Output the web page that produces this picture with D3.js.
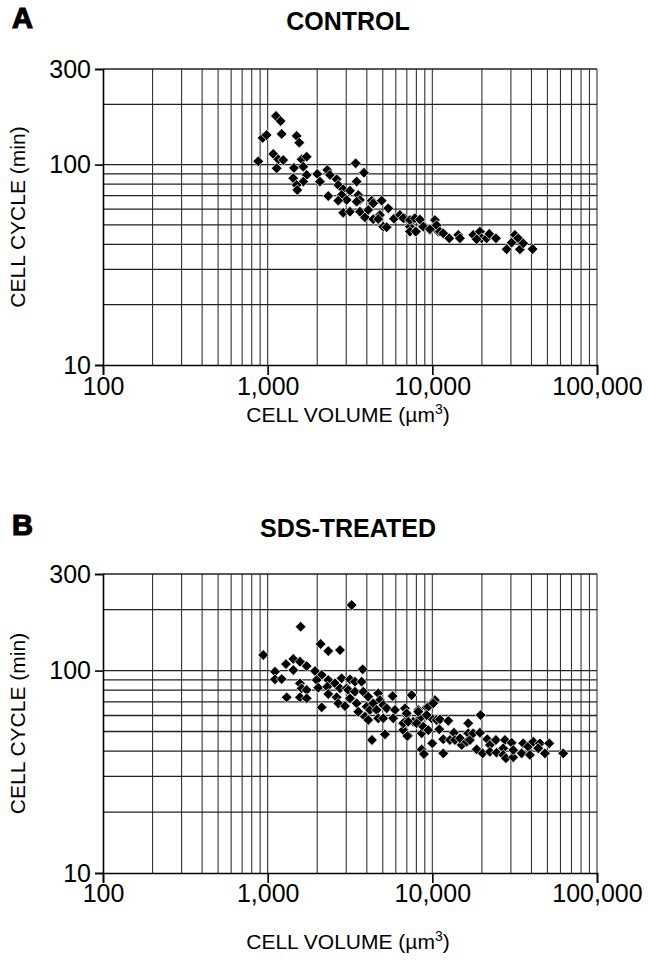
<!DOCTYPE html>
<html>
<head>
<meta charset="utf-8">
<script src="https://cdn.jsdelivr.net/npm/d3@7"></script>
<style>
  html, body { margin: 0; padding: 0; background: #fff; }
  svg { display: block; }
  text { font-family: "Liberation Sans", Arial, Helvetica, sans-serif; fill: #000; }
</style>
</head>
<body>
<svg id="chart" width="649" height="961"></svg>
<script>
// ---------- DATA ----------
const xTickValues = [100, 1000, 10000, 100000];
const xTickLabels = ["100", "1,000", "10,000", "100,000"];
const yTickValues = [10, 100, 300];
const yTickLabels = ["10", "100", "300"];
const xGridValues = [200,300,400,500,600,700,800,900,1000,2000,3000,4000,5000,6000,7000,8000,9000,10000,20000,30000,40000,50000,60000,70000,80000,90000,100000];
const yGridValues = [20,30,40,50,60,70,80,90,100,200,300];

const panelLetters = ["A", "B"];
const panelTitles = ["CONTROL", "SDS-TREATED"];
const xAxisTitle = "CELL VOLUME (\u00B5m";
const yAxisTitle = "CELL CYCLE (min)";

// Panel A: control
const controlVolume = [1123,1199,932,986,1216,1500,1556,877,1081,1160,1243,1134,1608,1725,1645,1444,1430,1725,1645,1500,1513,2001,2077,2300,2389,2624,2684,2333,3422,3843,3471,2877,3160,2814,3017,2684,3549,3634,3471,2877,3160,3634,3897,4281,4377,4081,4923,5399,4808,4377,4692,5034,5279,5846,6358,6816,7311,7842,7656,8409,8807,9670,10370,10860,6658,7311,7842,8409,7311,7952,8807,9670,10620,11120,11650,12670,14370,14710,17720,19450,19930,18580,21370,22160,24340,28260,30300,31730,33230,34030,35640,40640];
const controlCycle = [174.8,165,135.8,140.5,142.2,139,128.6,103.9,113,106.3,105.4,95.9,106.3,109.5,97.6,96.2,85.5,88.8,82.2,79.1,74.7,89.8,82.2,94,88.8,84.5,79.1,69.7,101.5,91.1,82.3,75.3,74.1,70.5,66.6,66.1,70.5,66.6,65.3,57.5,58.2,58.2,54.6,66.1,64.1,59.4,66.1,60.5,56.1,53.4,53.5,49,48.7,53.7,56.1,54,49,46.3,53.5,52.9,49.8,47.2,52.9,46.3,54,52.9,54,53.2,46.3,46.3,49,47.6,49.8,46.3,45.4,42.9,44.6,42.9,44.6,46.3,42.9,42.4,42.9,45.1,42.9,37.8,40.8,44.6,42.9,37.8,40.5,37.9];

// Panel B: SDS-treated
const sdsVolume = [3237,1586,940,2098,2333,2749,1108,1108,1217,1292,1431,1431,1571,1726,1938,2128,1305,1571,1609,1726,1571,1726,1985,2029,2333,2301,2128,2563,2814,2333,2624,2749,3017,2684,2947,3160,3389,3722,3776,3085,3389,3160,3471,3807,4081,3549,3897,3991,4180,4694,4808,4378,5035,4592,4081,4694,4298,5156,5742,5280,5929,5035,5789,6818,6984,7488,6818,7658,6658,7139,8212,8409,8611,9236,9672,10370,9905,10620,8611,8894,9989,6984,6658,7139,7040,8212,8032,9446,10130,9236,8809,9446,11130,12500,11020,11650,11650,13530,12790,13720,15070,14720,16520,16520,16160,16920,17720,19460,19650,18580,20210,21550,22370,24330,22370,24570,27600,30300,26950,26950,27990,30990,30990,34850,35650,38210,39140,41000,45010,43950,48280,51280,62350];
const sdsCycle = [210.8,164.7,119.4,135.3,124.9,126.3,98.7,90.5,90.8,107.7,114.1,100.6,110.6,105.3,99.5,95.1,73.8,86.5,81.7,80.2,73.8,72.9,89.8,82.3,89.8,83.2,65.8,86.5,91.6,76.6,73.8,81.7,81.7,68.9,66.8,90.5,88.1,88.1,101.5,80.2,78.6,72.9,68.9,78.6,74.3,62.6,59.2,66.3,63.9,77.2,71.5,68.9,67.6,63.9,57,58.1,45.4,48.4,74.8,65.1,63.9,58.1,58.1,65.1,60.3,75.7,55.9,55.9,50.8,47.7,63.9,58.1,49,65.8,67.6,71.5,58.1,57,40.8,38.7,43.7,61.5,54.9,55.9,47.5,62.6,54.9,66.3,68.9,60.3,52.8,50.8,57.4,56.5,51.3,45.8,39,49.3,45.4,45.4,42.9,46.3,54.9,49,44.5,45.4,49,49.3,60.3,40.8,39,45.8,42.9,45.4,39.7,39.3,45.4,44,41.3,38.3,36.9,37.3,40.5,39,43.7,42.1,38.3,44.5,43.7,41.3,39,43.7,39];

// ---------- DRAW ----------
const svg = d3.select("#chart");
const left = 103, right = 597;

const panels = [
  { top: 69, bottom: 365, vol: controlVolume, cyc: controlCycle, titleY: 30, tickY: 395, axisTitleY: 422 },
  { top: 574, bottom: 873, vol: sdsVolume, cyc: sdsCycle, titleY: 537, tickY: 902, axisTitleY: 949 }
];

panels.forEach((p, i) => {
  const x = d3.scaleLog().domain([100, 100000]).range([left, right]);
  const y = d3.scaleLog().domain([10, 300]).range([p.bottom, p.top]);
  const g = svg.append("g");

  // panel letter and title
  g.append("text").attr("x", 12).attr("y", p.titleY - 2)
    .attr("font-size", 29).attr("font-weight", "900")
    .attr("stroke", "#000").attr("stroke-width", 1.2)
    .text(panelLetters[i]);
  g.append("text").attr("x", (left + right) / 2 - 2).attr("y", p.titleY)
    .attr("text-anchor", "middle").attr("font-size", 25).attr("font-weight", "bold")
    .text(panelTitles[i]);

  // grid
  g.append("g").selectAll("line").data(xGridValues).join("line")
    .attr("x1", d => x(d)).attr("x2", d => x(d))
    .attr("y1", p.top).attr("y2", p.bottom)
    .attr("stroke", "#333").attr("stroke-width", 1.1);
  g.append("g").selectAll("line").data(yGridValues).join("line")
    .attr("x1", left).attr("x2", right)
    .attr("y1", d => y(d)).attr("y2", d => y(d))
    .attr("stroke", "#222").attr("stroke-width", 1.3);

  // axes
  const xAxis = d3.axisBottom(x).tickValues(xTickValues)
    .tickFormat((d, k) => xTickLabels[k]).tickSize(10).tickPadding(6);
  const gx = g.append("g").attr("transform", `translate(0,${p.bottom})`).call(xAxis);
  gx.select(".domain").attr("stroke", "#000").attr("stroke-width", 1.6);
  gx.selectAll(".tick line").attr("stroke", "#000").attr("stroke-width", 1.6);
  gx.selectAll(".tick text").attr("font-size", 25)
    .attr("font-family", '"Liberation Sans", Arial, sans-serif')
    .attr("dy", null)
    .attr("y", p.tickY - p.bottom);

  const yAxis = d3.axisLeft(y).tickValues(yTickValues)
    .tickFormat((d, k) => yTickLabels[k]).tickSize(8).tickPadding(4);
  const gy = g.append("g").attr("transform", `translate(${left},0)`).call(yAxis);
  gy.select(".domain").attr("stroke", "#000").attr("stroke-width", 1.6);
  gy.selectAll(".tick line").attr("stroke", "#000").attr("stroke-width", 1.6);
  gy.selectAll(".tick text").attr("font-size", 25)
    .attr("font-family", '"Liberation Sans", Arial, sans-serif');

  // axis titles
  const xt = g.append("text").attr("x", (left + right) / 2 - 2).attr("y", p.axisTitleY)
    .attr("text-anchor", "middle").attr("font-size", 21);
  xt.append("tspan").text(xAxisTitle);
  xt.append("tspan").attr("font-size", 14).attr("dy", -8).text("3");
  xt.append("tspan").attr("dy", 8).text(")");

  g.append("text")
    .attr("transform", `translate(25,${(p.top + p.bottom) / 2}) rotate(-90)`)
    .attr("text-anchor", "middle").attr("font-size", 21)
    .text(yAxisTitle);

  // points
  const sym = d3.symbol().type(d3.symbolSquare).size(58);
  g.append("g").selectAll("path").data(p.vol.map((v, k) => [v, p.cyc[k]])).join("path")
    .attr("d", sym)
    .attr("transform", d => `translate(${x(d[0])},${y(d[1])}) rotate(45)`)
    .attr("fill", "#000").attr("stroke", "#fff").attr("stroke-width", 0.7);
});
</script>
</body>
</html>
